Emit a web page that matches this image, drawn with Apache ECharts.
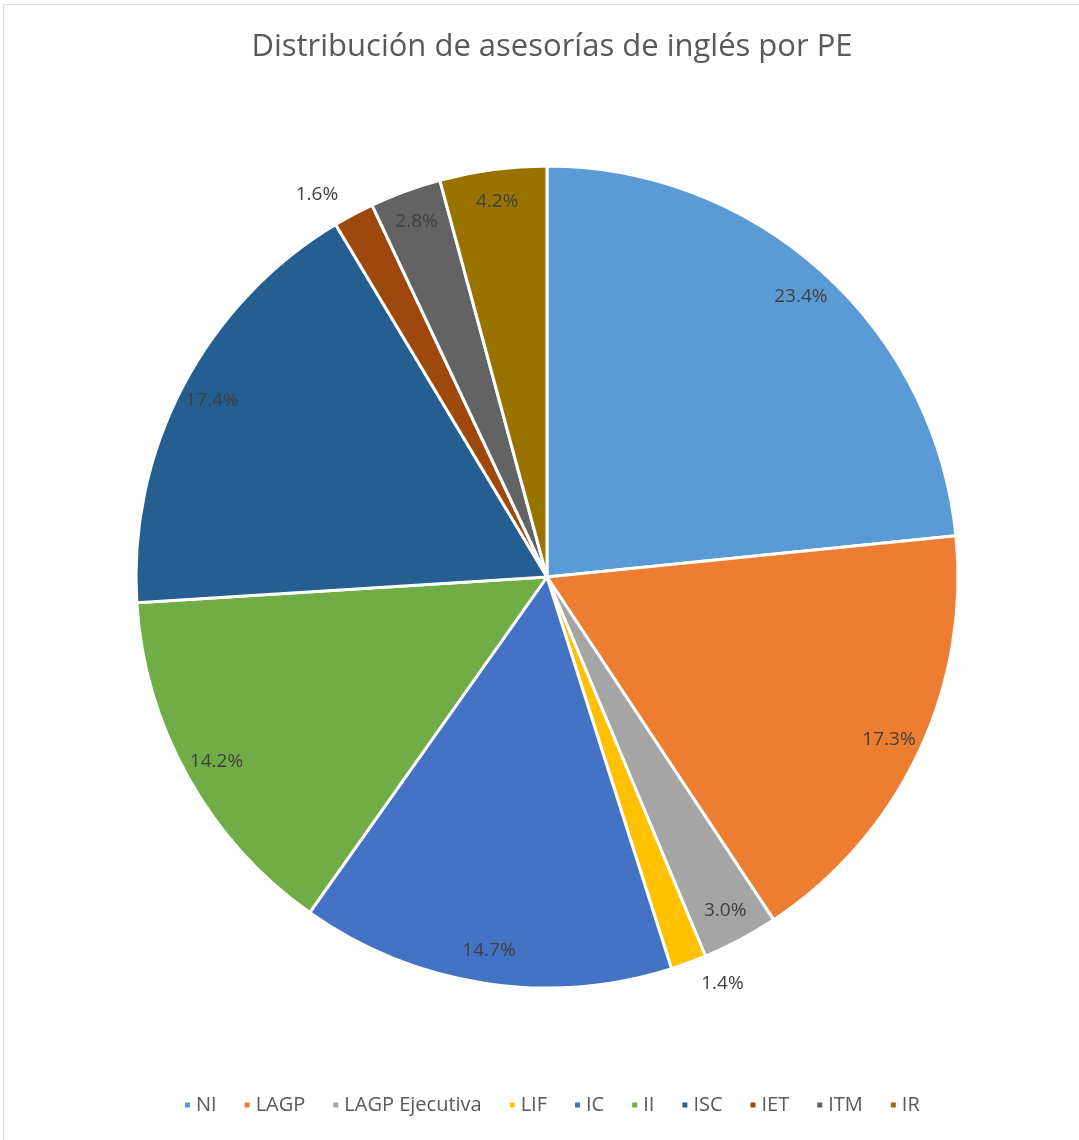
<!DOCTYPE html>
<html>
<head>
<meta charset="utf-8">
<script src="https://cdn.jsdelivr.net/npm/echarts@6/dist/echarts.min.js"></script>
<style>
html,body{margin:0;padding:0;background:#fff;}
#frame{position:absolute;left:3px;top:4px;width:1090px;height:1150px;border:1px solid #d9d9d9;box-sizing:border-box;}
#chart{position:absolute;left:0;top:0;width:1079px;height:1140px;}
</style>
</head>
<body>
<div id="frame"></div>
<div id="chart"></div>
<script>
const categories = ['NI','LAGP','LAGP Ejecutiva','LIF','IC','II','ISC','IET','ITM','IR'];
const values = [23.4, 17.3, 3.0, 1.4, 14.7, 14.2, 17.4, 1.6, 2.8, 4.2];
const colors = ['#5B9BD5','#ED7D31','#A5A5A5','#FFC000','#4472C4','#70AD47','#255E91','#9E480E','#636363','#997300'];
const outsideLabels = ['LIF','IET'];

const chart = echarts.init(document.getElementById('chart'), null, {renderer:'canvas'});
const labelFont = {fontFamily:'Open Sans', fontSize:19, color:'#404040'};

const fullData = categories.map((c,i)=>({
  name:c, value:values[i],
  itemStyle:{color:colors[i]},
  label: outsideLabels.includes(c) ? {show:true} : {show:false}
}));
const ringData = categories.map((c,i)=>({
  name:c, value:values[i],
  itemStyle:{color:'rgba(0,0,0,0)', borderWidth:0},
  label: outsideLabels.includes(c) ? {show:false} : {show:true}
}));

chart.setOption({
  animation:false,
  backgroundColor:'transparent',
  color: colors,
  title:{
    text:'Distribución de asesorías de inglés por PE',
    left:547, textAlign:'center', top:27,
    textStyle:{fontFamily:'Open Sans', fontSize:31, fontWeight:'normal', color:'#595959'}
  },
  legend:{
    bottom:20, left:178,
    data: categories,
    icon:'rect', itemWidth:7, itemHeight:7, itemGap:26,
    textStyle:{fontFamily:'Open Sans', fontSize:20, color:'#595959'}
  },
  series:[
    {
      type:'pie',
      center:[547,577],
      radius:[0,411],
      startAngle:90,
      clockwise:true,
      avoidLabelOverlap:false,
      itemStyle:{borderColor:'#fff', borderWidth:3},
      label:{position:'outside', formatter:(p)=>p.value.toFixed(1)+'%', ...labelFont},
      labelLine:{show:false, length:22, length2:0},
      emphasis:{disabled:true},
      data: fullData
    },
    {
      type:'pie',
      center:[547,577],
      radius:[340,411],
      startAngle:90,
      clockwise:true,
      silent:true,
      avoidLabelOverlap:false,
      legendHoverLink:false,
      label:{position:'inside', formatter:(p)=>p.value.toFixed(1)+'%', ...labelFont},
      labelLine:{show:false},
      emphasis:{disabled:true},
      data: ringData
    }
  ]
});
</script>
</body>
</html>
